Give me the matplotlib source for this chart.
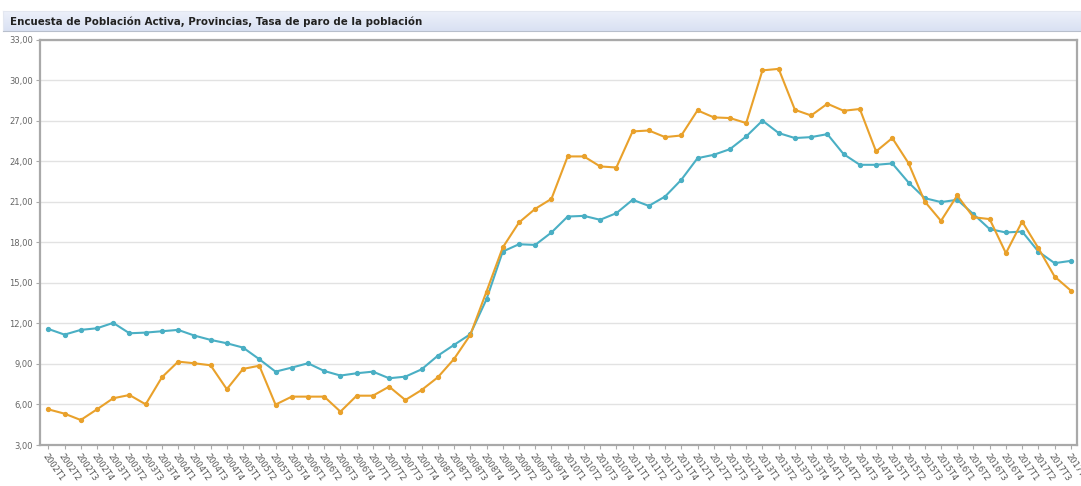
import numpy as np
import matplotlib
matplotlib.use("Agg")
import matplotlib.pyplot as plt

# Quarters 2002T1 .. 2017T4
periods = [f"{y}T{q}" for y in range(2002, 2018) for q in range(1, 5)]

# Tasa de paro (blue series)
paro_azul = [11.59, 11.17, 11.52, 11.64, 12.04, 11.27, 11.32, 11.42,
             11.52, 11.10, 10.78, 10.53, 10.21, 9.35, 8.43, 8.73,
             9.05, 8.48, 8.14, 8.31, 8.43, 7.94, 8.06, 8.60,
             9.61, 10.41, 11.20, 13.79, 17.32, 17.86, 17.81, 18.73,
             19.91, 19.96, 19.67, 20.16, 21.15, 20.70, 21.39, 22.63,
             24.23, 24.48, 24.90, 25.84, 27.01, 26.09, 25.72, 25.79,
             26.01, 24.53, 23.74, 23.74, 23.84, 22.43, 21.27, 20.98,
             21.15, 20.09, 18.98, 18.73, 18.80, 17.32, 16.46, 16.63]

# Tasa de paro (orange series)
paro_naranja = [5.64, 5.32, 4.85, 5.64, 6.46, 6.70, 6.01, 8.01,
                9.17, 9.05, 8.90, 7.13, 8.63, 8.87, 5.99, 6.58,
                6.58, 6.58, 5.47, 6.65, 6.65, 7.32, 6.33, 7.07,
                8.01, 9.37, 11.15, 14.36, 17.62, 19.47, 20.48, 21.22,
                24.36, 24.36, 23.62, 23.54, 26.21, 26.28, 25.79, 25.91,
                27.77, 27.25, 27.20, 26.83, 30.73, 30.84, 27.81, 27.39,
                28.26, 27.74, 27.87, 24.73, 25.72, 23.86, 21.02, 19.59,
                21.47, 19.86, 19.72, 17.20, 19.54, 17.57, 15.47, 14.43]

yticks = [3, 6, 9, 12, 15, 18, 21, 24, 27, 30, 33]

blue = "#4AAFC4"
orange = "#E9A12B"

plt.rcParams['font.family'] = ['DejaVu Sans']

fig = plt.figure(figsize=(10.81, 4.86), dpi=100)

# title bar with a soft gradient
bar = fig.add_axes([0.003, 1 - 31.5 / 486, 0.997, 20.5 / 486])
grad = np.linspace(0, 1, 50).reshape(-1, 1)
cmap = matplotlib.colors.LinearSegmentedColormap.from_list("bar", ["#EEF1FA", "#D9E1F3"])
bar.imshow(grad, aspect="auto", cmap=cmap, extent=[0, 1, 0, 1])
bar.set_xlim(0, 1)
bar.set_ylim(0, 1)
bar.set_xticks([])
bar.set_yticks([])
for s in ["top", "left", "right"]:
    bar.spines[s].set_color("#E3E7F0")
bar.spines["bottom"].set_color("#B8BFCC")
bar.text(0.006, 0.48, "Encuesta de Población Activa, Provincias, Tasa de paro de la población",
         fontsize=7.4, fontweight="bold", color="#222222", va="center", ha="left",
         transform=bar.transAxes)

ax = fig.add_axes([40 / 1081, 1 - 445 / 486, 1037 / 1081, (445 - 39.7) / 486])
x = np.arange(len(periods))
ax.plot(x, paro_azul, color=blue, lw=1.5, marker="o", ms=2.8, zorder=3)
ax.plot(x, paro_naranja, color=orange, lw=1.5, marker="o", ms=2.8, zorder=3)

ax.set_xlim(-0.51, len(periods) - 1 + 0.38)
ax.set_ylim(3, 33)
ax.set_yticks(yticks)
ax.set_yticklabels([f"{v:.2f}".replace(".", ",") for v in yticks], fontsize=6, color="#666666")
ax.set_xticks(x)
ax.set_xticklabels(periods, rotation=-55, ha="left", va="top", rotation_mode="anchor",
                   fontsize=6, color="#555555")
ax.tick_params(axis="both", length=3, color="#AAAAAA", pad=2)
ax.grid(axis="y", color="#E2E2E2", lw=1)
ax.set_axisbelow(True)
for s in ["left", "top", "right", "bottom"]:
    ax.spines[s].set_color("#A9A9A9")
    ax.spines[s].set_linewidth(1.6)

fig.savefig("out.png", dpi=100)
